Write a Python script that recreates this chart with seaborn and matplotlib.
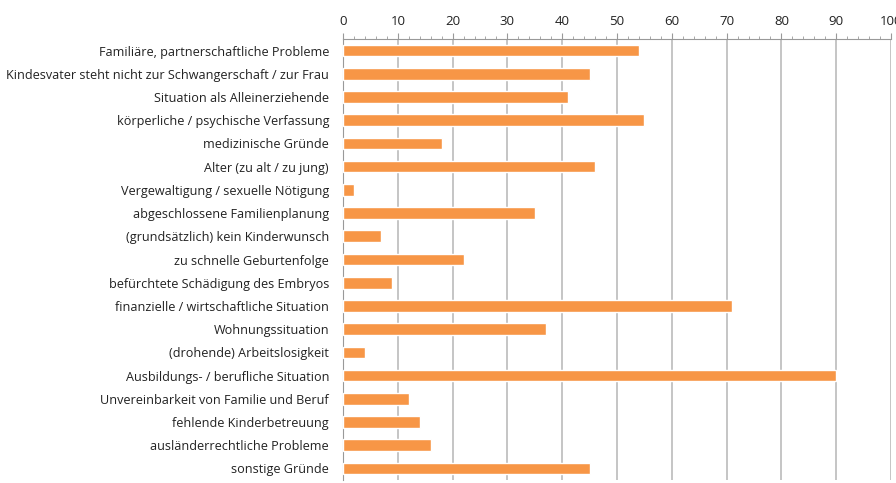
import matplotlib
matplotlib.use("Agg")
import matplotlib.pyplot as plt
from matplotlib.ticker import MultipleLocator, FixedLocator
import seaborn as sns
import pandas as pd

# Gründe (Reihenfolge von oben nach unten)
gruende = [
    "Familiäre, partnerschaftliche Probleme",
    "Kindesvater steht nicht zur Schwangerschaft / zur Frau",
    "Situation als Alleinerziehende",
    "körperliche / psychische Verfassung",
    "medizinische Gründe",
    "Alter (zu alt / zu jung)",
    "Vergewaltigung / sexuelle Nötigung",
    "abgeschlossene Familienplanung",
    "(grundsätzlich) kein Kinderwunsch",
    "zu schnelle Geburtenfolge",
    "befürchtete Schädigung des Embryos",
    "finanzielle / wirtschaftliche Situation",
    "Wohnungssituation",
    "(drohende) Arbeitslosigkeit",
    "Ausbildungs- / berufliche Situation",
    "Unvereinbarkeit von Familie und Beruf",
    "fehlende Kinderbetreuung",
    "ausländerrechtliche Probleme",
    "sonstige Gründe",
]
werte = [54, 45, 41, 55, 18, 46, 2, 35, 7, 22, 9, 71, 37, 4, 90, 12, 14, 16, 45]
x_ticks = [0, 10, 20, 30, 40, 50, 60, 70, 80, 90, 100]

df = pd.DataFrame({"grund": gruende, "wert": werte})

sns.set_style("white")
plt.rcParams["font.family"] = ["Open Sans", "DejaVu Sans"]

fig = plt.figure(figsize=(8.96, 4.83), dpi=100)
ax = fig.add_axes([343 / 896, 3 / 483, 548 / 896, 441 / 483])

sns.barplot(data=df, x="wert", y="grund", color="#F79646", width=0.5,
            saturation=1, ax=ax, zorder=3)

ax.set_xlim(0, 100)
ax.set_ylim(len(gruende) - 0.5, -0.5)
ax.set_xlabel("")
ax.set_ylabel("")

# x-Achse oben
ax.xaxis.tick_top()
ax.xaxis.set_major_locator(FixedLocator(x_ticks))
ax.xaxis.set_minor_locator(MultipleLocator(2))
ax.set_xticklabels([str(t) for t in x_ticks], fontsize=9.5, color="#222222")
ax.tick_params(axis="x", which="major", length=4, color="#999999", pad=4)
ax.tick_params(axis="x", which="minor", length=2.5, color="#999999")
ax.grid(axis="x", color="#BBBBBB", linewidth=1.2, zorder=0)

# y-Achse: Striche zwischen den Kategorien
ax.tick_params(axis="y", which="major", length=0, pad=10)
ax.yaxis.set_minor_locator(FixedLocator([i + 0.5 for i in range(-1, len(gruende))]))
ax.tick_params(axis="y", which="minor", length=4, color="#999999")
for lbl in ax.get_yticklabels():
    lbl.set_fontsize(9.1)
    lbl.set_color("#222222")

for side in ["right", "bottom"]:
    ax.spines[side].set_visible(False)
ax.spines["top"].set_color("#999999")
ax.spines["left"].set_color("#999999")

fig.savefig("out.png", dpi=100)
